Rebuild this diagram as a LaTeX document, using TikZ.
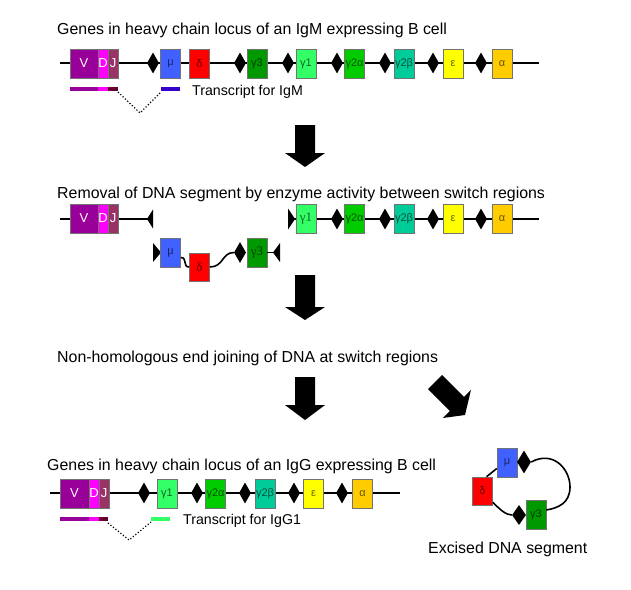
\documentclass[tikz,border=0pt]{standalone}
\usepackage{fontspec}
\setmainfont{Liberation Sans}
\newfontfamily\serifg{Liberation Serif}
\usetikzlibrary{shapes.geometric}
\definecolor{cV}{RGB}{153,0,153}
\definecolor{cD}{RGB}{255,0,255}
\definecolor{cJ}{RGB}{153,51,102}
\definecolor{cJt}{RGB}{102,0,51}
\definecolor{cmu}{RGB}{64,96,255}
\definecolor{cmut}{RGB}{51,0,204}
\definecolor{cdel}{RGB}{255,0,0}
\definecolor{cgthree}{RGB}{0,153,0}
\definecolor{cgone}{RGB}{51,255,102}
\definecolor{cgta}{RGB}{0,204,0}
\definecolor{cgtb}{RGB}{0,204,153}
\definecolor{ceps}{RGB}{255,255,0}
\definecolor{calp}{RGB}{255,204,0}
\tikzset{
  gene/.style={draw=black!55, line width=0.5pt, fill=#1, text=#1!40!black,
    minimum width=20pt, minimum height=29pt, inner sep=0pt,
    font=\fontsize{11}{11}\selectfont},
  sgene/.style={gene=#1, font=\serifg\fontsize{13}{13}\selectfont},
  vdj/.style={draw=black!55, line width=0.5pt, fill=#1, text=white,
    minimum height=29pt, inner sep=0pt, font=\fontsize{13}{13}\selectfont},
  sw/.style={diamond, fill=black, minimum width=12pt, minimum height=21pt, inner sep=0pt},
  dna/.style={line width=1.6pt},
  tbar/.style={line width=4pt},
  splice/.style={line width=1.2pt, dotted},
  title/.style={anchor=base west, inner sep=0pt, font=\fontsize{15.9}{18}\selectfont},
  tlabel/.style={anchor=west, inner sep=0pt, font=\fontsize{14.2}{16}\selectfont},
  fatarrow/.style={fill=black}
}
\begin{document}
\begin{tikzpicture}[x=1pt,y=-1pt]
\useasboundingbox[fill=white] (0,0) rectangle (631,589);

% ---------- Row 1: IgM locus ----------
\node[title] (title1) at (57,34) {Genes in heavy chain locus of an IgM expressing B cell};
\coordinate (r1s) at (60,63); \coordinate (r1e) at (539,63);
\draw[dna] (r1s) -- (r1e);
\node[vdj=cV, minimum width=28pt] (V1) at (84,63.5) {V};
\node[vdj=cD, minimum width=10pt] (D1) at (103,63.5) {D};
\node[vdj=cJ, minimum width=10pt] (J1) at (113,63.5) {J};
\node[sw] (s1a) at (153,63) {};
\node[gene=cmu] (mu1) at (170.5,63.5) {μ};
\node[gene=cdel] (del1) at (199.5,63.5) {δ};
\node[sw] (s1b) at (240,63) {};
\node[gene=cgthree] (g31) at (257,63.5) {γ3};
\node[sw] (s1c) at (288,63) {};
\node[gene=cgone] (g11) at (306,63.5) {γ1};
\node[sw] (s1d) at (337,63) {};
\node[gene=cgta] (g2a1) at (354.5,63.5) {γ2α};
\node[sw] (s1e) at (385,63) {};
\node[gene=cgtb] (g2b1) at (404,63.5) {γ2β};
\node[sw] (s1f) at (433,63) {};
\node[gene=ceps] (eps1) at (453,63.5) {ε};
\node[sw] (s1g) at (481,63) {};
\node[gene=calp] (alp1) at (502,63.5) {α};
% transcript
\draw[tbar, cV] (70,89) -- (98,89);
\draw[tbar, cD] (98,89) -- (108,89);
\draw[tbar, cJt] (108,89) -- (118,89);
\draw[tbar, cmut] (161,89) -- (180,89);
\coordinate (t1a) at (118,92); \coordinate (t1b) at (140,113); \coordinate (t1c) at (161,92);
\draw[splice] (t1a) -- (t1b) -- (t1c);
\node[tlabel] (tr1) at (192,92) {Transcript for IgM};

% arrow 1
\fill[fatarrow] (295,125) -- (315,125) -- (315,153) -- (325,153) -- (305,167) -- (285,153) -- (295,153) -- cycle;

% ---------- Row 2: removal ----------
\node[title] (title2) at (57,198.5) {Removal of DNA segment by enzyme activity between switch regions};
\coordinate (r2s) at (60,219); \coordinate (r2a) at (150,219);
\draw[dna] (r2s) -- (r2a);
\node[vdj=cV, minimum width=28pt] (V2) at (84,218.5) {V};
\node[vdj=cD, minimum width=10pt] (D2) at (103,218.5) {D};
\node[vdj=cJ, minimum width=10pt] (J2) at (113,218.5) {J};
\fill (147,219) -- (153,209.5) -- (153,228.5) -- cycle;
\coordinate (r2b) at (288,219); \coordinate (r2e) at (539,219);
\draw[dna] (r2b) -- (r2e);
\fill (288,208.5) -- (295,219) -- (288,229.5) -- cycle;
\node[sgene=cgone] (g12) at (306,218.5) {γ1};
\node[sw] (s2d) at (337,219) {};
\node[gene=cgta] (g2a2) at (354.5,218.5) {γ2α};
\node[sw] (s2e) at (385,219) {};
\node[gene=cgtb] (g2b2) at (404,218.5) {γ2β};
\node[sw] (s2f) at (433,219) {};
\node[gene=ceps] (eps2) at (453,218.5) {ε};
\node[sw] (s2g) at (481,219) {};
\node[gene=calp] (alp2) at (502,218.5) {α};
% excised piece (linear)
\fill (153,243) -- (161,252.5) -- (153,262) -- cycle;
\node[sgene=cmu] (mu2) at (170.5,252.5) {μ};
\node[sgene=cdel, minimum height=28pt] (del2) at (199.5,267) {δ};
\node[sw] (s2b) at (240,252.5) {};
\node[sgene=cgthree] (g32) at (257,252.5) {γ3};
\coordinate (r2c) at (273,252.5);
\draw[dna] ([yshift=-5pt]mu2.east) .. controls +(7,0) and +(-7,0) .. (del2.west);
\draw[dna] (del2.east) .. controls +(14,0) and +(-12,0) .. (s2b.west);
\draw[dna] (g32.east) -- (r2c);
\fill (273,252.5) -- (280,243) -- (280,262) -- cycle;

% arrow 2
\fill[fatarrow] (295,275) -- (315,275) -- (315,307) -- (325,307) -- (305,320) -- (285,307) -- (295,307) -- cycle;

% ---------- Row 3 ----------
\node[title] (title3) at (57,362) {Non-homologous end joining of DNA at switch regions};
\fill[fatarrow] (295,377) -- (315,377) -- (315,405) -- (325,405) -- (305,420) -- (285,405) -- (295,405) -- cycle;
\fill[fatarrow] (442.1,374.9) -- (464,396.8) -- (471,389.8) -- (465,415) -- (442.8,418) -- (449.8,411) -- (427.9,389.1) -- cycle;

% ---------- Row 4: IgG locus ----------
\node[title] (title4) at (47,470.7) {Genes in heavy chain locus of an IgG expressing B cell};
\coordinate (r4s) at (50,493); \coordinate (r4e) at (400,493);
\draw[dna] (r4s) -- (r4e);
\node[vdj=cV, minimum width=29pt] (V4) at (74.5,493.5) {V};
\node[vdj=cD, minimum width=10pt] (D4) at (94,493.5) {D};
\node[vdj=cJ, minimum width=10pt] (J4) at (104,493.5) {J};
\node[sw] (s4a) at (144,493) {};
\node[gene=cgone] (g14) at (167,493.5) {γ1};
\node[sw] (s4d) at (197,493) {};
\node[gene=cgta] (g2a4) at (215.5,493.5) {γ2α};
\node[sw] (s4e) at (245,493) {};
\node[gene=cgtb] (g2b4) at (265,493.5) {γ2β};
\node[sw] (s4f) at (294,493) {};
\node[gene=ceps] (eps4) at (313.5,493.5) {ε};
\node[sw] (s4g) at (342,493) {};
\node[gene=calp] (alp4) at (362.5,493.5) {α};
\draw[tbar, cV] (60,519) -- (89,519);
\draw[tbar, cD] (89,519) -- (99,519);
\draw[tbar, cJt] (99,519) -- (108,519);
\draw[tbar, cgone] (151,519) -- (170,519);
\coordinate (t4a) at (108,523); \coordinate (t4b) at (129,540); \coordinate (t4c) at (151,522);
\draw[splice] (t4a) -- (t4b) -- (t4c);
\node[tlabel] (tr4) at (183,521) {Transcript for IgG1};

% ---------- Excised circle ----------
\node[gene=cmu] (mu5) at (507,462.5) {μ};
\node[sw, minimum width=14pt, minimum height=23pt] (s5a) at (524,462) {};
\node[gene=cdel, minimum height=28pt] (del5) at (482.5,491) {δ};
\node[gene=cgthree] (g35) at (536,514.5) {γ3};
\node[sw, minimum width=14pt, minimum height=20pt] (s5b) at (519,515) {};
\coordinate (arcR) at (570,487);
\draw[dna] ([xshift=4pt]del5.north) -- ([yshift=-6pt]mu5.west);
\draw[dna] ([yshift=3pt]del5.south east) .. controls +(7,7) and +(-6,0) .. (s5b.west);
\draw[dna] (s5a.east) .. controls +(22,-12) and +(0,-18) .. (arcR) .. controls +(0,16) and +(12,-2) .. ([yshift=4.5pt]g35.east);
\node[title] (exc) at (428,553.7) {Excised DNA segment};
\end{tikzpicture}
\end{document}
